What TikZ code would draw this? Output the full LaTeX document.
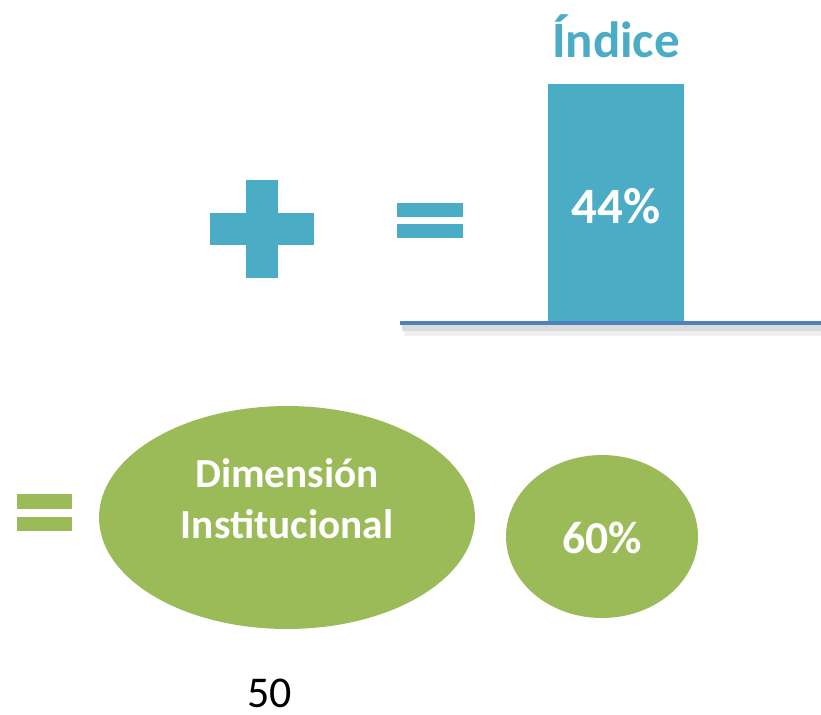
\documentclass[tikz,border=0pt]{standalone}
\usepackage{fontspec}
\setmainfont{Carlito}
\usetikzlibrary{shapes.geometric}
\definecolor{azul}{HTML}{4BACC6}
\definecolor{verde}{HTML}{9BBB59}
\definecolor{eje}{HTML}{4F81BD}
\begin{document}
\begin{tikzpicture}[x = 0.02cm, y = -0.02cm]

        \useasboundingbox (0, 0) rectangle (821, 714);

        \fill [azul] (246, 180) rectangle (278, 278);
        \fill [azul] (210, 213) rectangle (314, 245);

        \fill [azul] (397, 203) rectangle (463, 217);
        \fill [azul] (397, 224) rectangle (463, 238);

        \fill [azul] (548, 84) rectangle (684, 321);
        \node (n1) at (616, 57) [anchor = base, text = azul, font = \fontsize{29}{34}\selectfont\bfseries] {Índice};
        \node (n2) at (616, 223) [anchor = base, text = white, font = \fontsize{29}{34}\selectfont\bfseries] {44\%};

        \draw [black!6, line width = 6pt] (404, 331) -- (821, 331);
        \draw [black!14, line width = 3pt] (402, 328) -- (821, 328);
        \draw [eje, line width = 2.3pt] (400, 323) -- (821, 323);

        \fill [verde] (17, 494) rectangle (72, 509);
        \fill [verde] (17, 517) rectangle (72, 531);

        \node (n3) at (287, 517.5) [ellipse, fill = verde, inner sep = 0, minimum width = 7.52cm, minimum height = 4.46cm] {};
        \node (n4) at (287, 487) [anchor = base, text = white, font = \fontsize{23.5}{29}\selectfont\bfseries] {Dimensión};
        \node (n5) at (287, 538) [anchor = base, text = white, font = \fontsize{23.5}{29}\selectfont\bfseries] {Institucional};

        \node (n6) at (602, 536.5) [ellipse, fill = verde, inner sep = 0, minimum width = 3.84cm, minimum height = 3.26cm] {};
        \node (n7) at (602, 553) [anchor = base, text = white, font = \fontsize{26}{31}\selectfont\bfseries] {60\%};

        \node (n8) at (269.5, 707) [anchor = base, inner sep = 0, font = \fontsize{25}{30}\selectfont] {50};

    \end{tikzpicture}
\end{document}
